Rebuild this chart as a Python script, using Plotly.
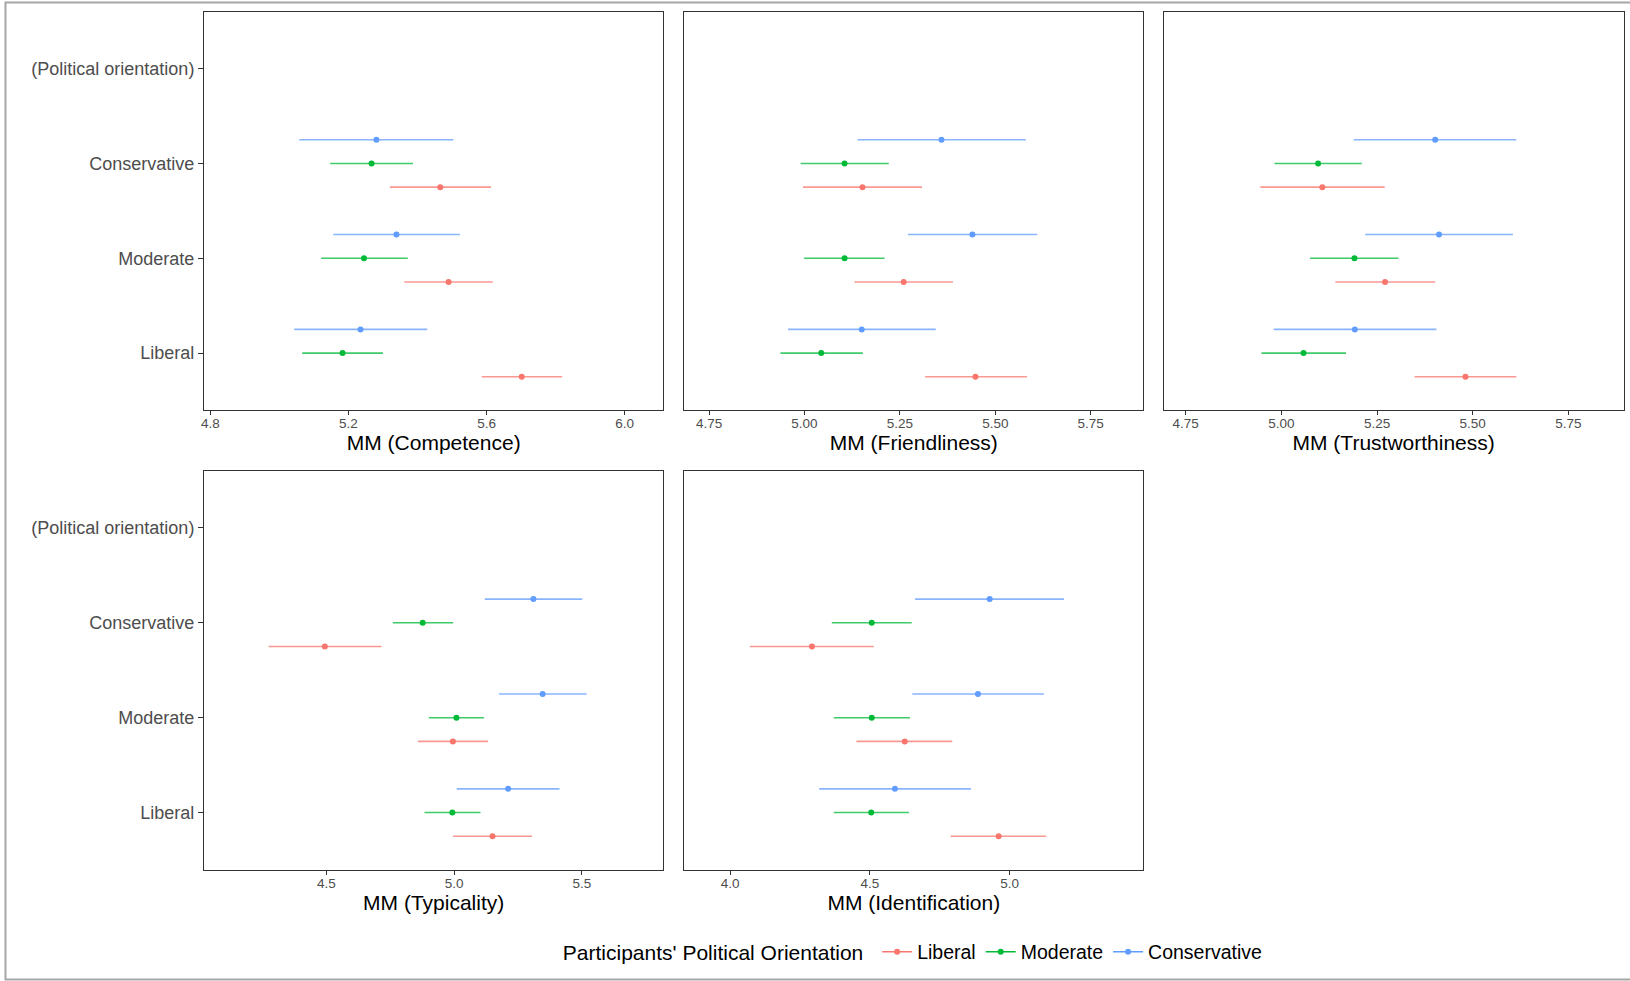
import plotly.graph_objects as go

# Target political orientation (y categories) and participant groups (series)
y_labels = ["Liberal", "Moderate", "Conservative", "(Political orientation)"]
participant_groups = ["Liberal", "Moderate", "Conservative"]
group_colors = ["#F8766D", "#00BA38", "#619CFF"]
group_line_colors = ["rgba(248,118,109,0.75)", "rgba(0,186,56,0.75)", "rgba(97,156,255,0.75)"]
dodge = [-0.25, 0.0, 0.25]

# Marginal means per participant group; inner order = target Liberal, Moderate, Conservative
competence_mm = [[5.702, 5.490, 5.466], [5.183, 5.245, 5.267], [5.235, 5.339, 5.281]]
competence_lo = [[5.586, 5.362, 5.320], [5.066, 5.121, 5.147], [5.043, 5.156, 5.058]]
competence_hi = [[5.819, 5.618, 5.613], [5.300, 5.372, 5.387], [5.428, 5.523, 5.504]]

friendliness_mm = [[5.448, 5.260, 5.152], [5.044, 5.105, 5.105], [5.150, 5.440, 5.359]]
friendliness_lo = [[5.316, 5.131, 4.996], [4.937, 4.999, 4.990], [4.957, 5.271, 5.139]]
friendliness_hi = [[5.583, 5.389, 5.308], [5.153, 5.210, 5.221], [5.344, 5.610, 5.580]]

trust_mm = [[5.481, 5.271, 5.107], [5.058, 5.191, 5.096], [5.192, 5.412, 5.402]]
trust_lo = [[5.348, 5.141, 4.945], [4.948, 5.075, 4.982], [4.980, 5.219, 5.189]]
trust_hi = [[5.614, 5.402, 5.270], [5.169, 5.306, 5.210], [5.405, 5.605, 5.614]]

typicality_mm = [[5.150, 4.995, 4.494], [4.993, 5.009, 4.877], [5.211, 5.346, 5.310]]
typicality_lo = [[4.995, 4.858, 4.274], [4.884, 4.901, 4.760], [5.010, 5.175, 5.120]]
typicality_hi = [[5.305, 5.133, 4.716], [5.103, 5.117, 4.996], [5.412, 5.518, 5.501]]

identification_mm = [[4.961, 4.625, 4.293], [4.505, 4.507, 4.507], [4.590, 4.887, 4.929]]
identification_lo = [[4.789, 4.452, 4.071], [4.371, 4.371, 4.364], [4.319, 4.652, 4.662]]
identification_hi = [[5.131, 4.795, 4.514], [4.640, 4.644, 4.650], [4.862, 5.123, 5.195]]

panel_titles = ["MM (Competence)", "MM (Friendliness)", "MM (Trustworthiness)",
                "MM (Typicality)", "MM (Identification)"]
panel_ticks = [[4.8, 5.2, 5.6, 6.0], [4.75, 5.0, 5.25, 5.5, 5.75], [4.75, 5.0, 5.25, 5.5, 5.75],
               [4.5, 5.0, 5.5], [4.0, 4.5, 5.0]]
panel_tickformat = [".1f", ".2f", ".2f", ".1f", ".1f"]
panel_xrange = [[4.782, 6.112], [4.685, 5.888], [4.693, 5.894], [4.022, 5.818], [3.836, 5.479]]

panels = [
    (competence_mm, competence_lo, competence_hi),
    (friendliness_mm, friendliness_lo, friendliness_hi),
    (trust_mm, trust_lo, trust_hi),
    (typicality_mm, typicality_lo, typicality_hi),
    (identification_mm, identification_lo, identification_hi),
]

W, H = 1630, 981
col_px = [(201.5, 661.5), (682.5, 1142.5), (1163.0, 1623.5)]
row_px = [(11.7, 410.0), (471.0, 869.5)]
panel_pos = [(0, 0), (0, 1), (0, 2), (1, 0), (1, 1)]

FONT = "Liberation Sans, Arial, Helvetica, sans-serif"
AXIS_GRAY = "#4D4D4D"
FRAME = "#333333"

fig = go.Figure()
layout = {}

for p, (mm, lo, hi) in enumerate(panels):
    row, col = panel_pos[p]
    sfx = "" if p == 0 else str(p + 1)
    for g in range(3):
        ys = [t + dodge[g] for t in range(3)]
        fig.add_trace(go.Scatter(
            x=mm[g], y=ys, mode="markers",
            marker=dict(color=group_colors[g], size=6),
            error_x=dict(type="data", symmetric=False,
                         array=[h - m for h, m in zip(hi[g], mm[g])],
                         arrayminus=[m - l for m, l in zip(mm[g], lo[g])],
                         color=group_line_colors[g], thickness=1.6, width=0),
            xaxis="x" + sfx, yaxis="y" + sfx,
            showlegend=False, hoverinfo="skip",
        ))
    x0, x1 = col_px[col]
    y0, y1 = row_px[row]
    layout["xaxis" + sfx] = dict(
        domain=[x0 / W, x1 / W], anchor="y" + sfx, range=panel_xrange[p],
        tickvals=panel_ticks[p], tickformat=panel_tickformat[p],
        showgrid=False, zeroline=False,
        showline=True, mirror=True, linecolor=FRAME, linewidth=1.3,
        ticks="outside", ticklen=4, tickwidth=1.1, tickcolor=FRAME,
        ticklabelstandoff=-3,
        tickfont=dict(family=FONT, size=13.5, color=AXIS_GRAY),
        title=dict(text=panel_titles[p], font=dict(family=FONT, size=21, color="#000000"),
                   standoff=1),
        fixedrange=True,
    )
    first_col = col == 0
    layout["yaxis" + sfx] = dict(
        domain=[1 - y1 / H, 1 - y0 / H], anchor="x" + sfx, range=[-0.6, 3.6],
        tickvals=[0, 1, 2, 3], ticktext=y_labels if first_col else [""] * 4,
        showticklabels=first_col,
        showgrid=False, zeroline=False,
        showline=True, mirror=True, linecolor=FRAME, linewidth=1.3,
        ticks="outside" if first_col else "", ticklen=5, tickwidth=1.1, tickcolor=FRAME,
        tickfont=dict(family=FONT, size=18, color=AXIS_GRAY),
        fixedrange=True,
    )

# legend entries: point with a short range line
for g in range(3):
    fig.add_trace(go.Scatter(
        x=[None], y=[None], mode="lines+markers", name=participant_groups[g],
        line=dict(color=group_colors[g], width=1.6),
        marker=dict(color=group_colors[g], size=6),
        showlegend=True,
    ))

fig.update_layout(
    width=W, height=H,
    margin=dict(l=0, r=0, t=0, b=0),
    paper_bgcolor="white", plot_bgcolor="white",
    font=dict(family=FONT, color="#000000"),
    showlegend=True,
    legend=dict(
        orientation="h", x=913 / W, xanchor="center", y=1 - 952 / H, yanchor="middle",
        title=dict(text="Participants' Political Orientation ", side="left",
                   font=dict(family=FONT, size=21, color="#000000")),
        font=dict(family=FONT, size=19.5, color="#000000"),
        itemwidth=30, tracegroupgap=0, bgcolor="rgba(0,0,0,0)",
    ),
    shapes=[dict(type="rect", xref="paper", yref="paper",
                 x0=2.5 / W, x1=1.002, y0=1 - 979.5 / H, y1=1 - 2.5 / H,
                 line=dict(color="#A6A6A6", width=2), fillcolor="rgba(0,0,0,0)", layer="below")],
    **layout,
)

fig.write_html("out.html")
